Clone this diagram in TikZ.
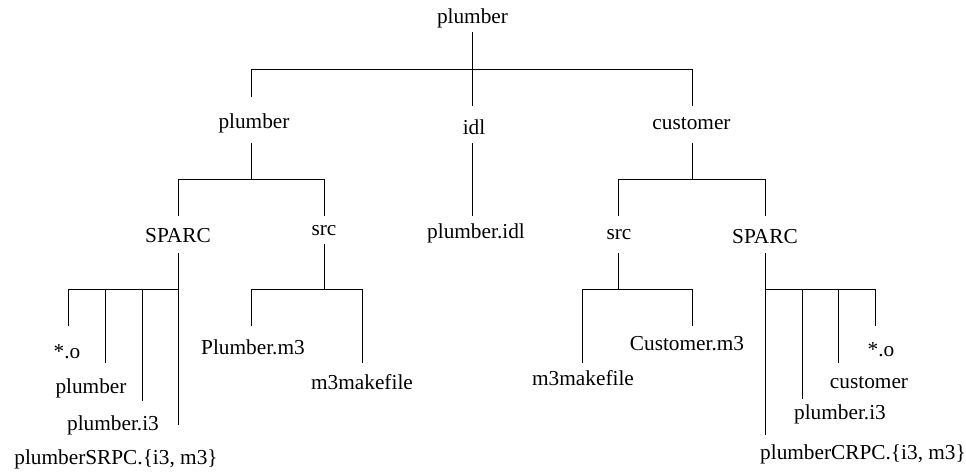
\documentclass[tikz,border=0pt]{standalone}
\usepackage{fontspec}
\setmainfont{Liberation Serif}
\begin{document}
\begin{tikzpicture}[x=1pt,y=-1pt,
  lbl/.style={inner sep=0pt, font=\fontsize{21.3}{24}\selectfont},
  conn/.style={line width=1pt, black}]
\useasboundingbox (0,0) rectangle (966,472);
% ---- labels ----
\node[lbl] (root)   at (472.5,18)  {plumber};
\node[lbl] (plA)    at (254,123)   {plumber};
\node[lbl] (idl)    at (474,127.5) {idl};
\node[lbl] (cust)   at (691.5,124) {customer};
\node[lbl] (pidl)   at (476,233)   {plumber.idl};
\node[lbl] (sparcL) at (178,236)   {SPARC};
\node[lbl] (srcL)   at (324,231)   {src};
\node[lbl] (srcR)   at (619,235)   {src};
\node[lbl] (sparcR) at (765,237)   {SPARC};
\node[lbl] (oL)     at (67,352)    {*.o};
\node[lbl] (plL)    at (91,388)    {plumber};
\node[lbl] (i3L)    at (113,425)   {plumber.i3};
\node[lbl] (srpc)   at (116,459)   {plumberSRPC.\{i3, m3\}};
\node[lbl] (pm3)    at (253,347)   {Plumber.m3};
\node[lbl] (mkL)    at (362,382)   {m3makefile};
\node[lbl] (mkR)    at (583,378)   {m3makefile};
\node[lbl] (cm3)    at (687,344)   {Customer.m3};
\node[lbl] (oR)     at (881,350)   {*.o};
\node[lbl] (custR)  at (869,383)   {customer};
\node[lbl] (i3R)    at (840,414)   {plumber.i3};
\node[lbl] (crpc)   at (863,454)   {plumberCRPC.\{i3, m3\}};
% ---- connector end points and junctions ----
\coordinate (rootB) at (472,32);
\coordinate (idlT)  at (472,106);
\coordinate (b0L)   at (251,69);
\coordinate (b0R)   at (692,69);
\coordinate (plAT)  at (251,97);
\coordinate (custT) at (692,106);
% level 1 -> 2
\coordinate (plAB)  at (251,143);
\coordinate (j1L)   at (251,179);
\coordinate (b1La)  at (178,179);
\coordinate (b1Lb)  at (324,179);
\coordinate (sparcLT) at (178,216);
\coordinate (srcLT) at (324,216);
\coordinate (idlB)  at (472,143);
\coordinate (pidlT) at (472,216);
\coordinate (custB) at (692,143);
\coordinate (j1R)   at (692,179);
\coordinate (b1Ra)  at (618,179);
\coordinate (b1Rb)  at (765,179);
\coordinate (srcRT) at (618,216);
\coordinate (sparcRT) at (765,216);
% left SPARC
\coordinate (sparcLB) at (178,253);
\coordinate (srpcT) at (178,425);
\coordinate (b2a)   at (68,289);
\coordinate (b2b)   at (105,289);
\coordinate (b2c)   at (142,289);
\coordinate (b2d)   at (178,289);
\coordinate (oLT)   at (68,326);
\coordinate (plLT)  at (105,363);
\coordinate (i3LT)  at (142,401);
% left src
\coordinate (srcLB) at (324,244);
\coordinate (b3m)   at (324,289);
\coordinate (b3a)   at (251,289);
\coordinate (b3b)   at (362,289);
\coordinate (pm3T)  at (251,326);
\coordinate (mkLT)  at (362,363);
% right src
\coordinate (srcRB) at (618,253);
\coordinate (b4m)   at (618,289);
\coordinate (b4a)   at (582,289);
\coordinate (b4b)   at (692,289);
\coordinate (mkRT)  at (582,363);
\coordinate (cm3T)  at (692,326);
% right SPARC
\coordinate (sparcRB) at (765,253);
\coordinate (crpcT) at (765,435);
\coordinate (b5a)   at (765,289);
\coordinate (b5b)   at (802,289);
\coordinate (b5c)   at (838,289);
\coordinate (b5d)   at (875,289);
\coordinate (i3RT)  at (802,399);
\coordinate (custRT) at (838,363);
\coordinate (oRT)   at (875,326);
% ---- connectors ----
\draw[conn] (rootB) -- (idlT);
\draw[conn] (plAT) -- (b0L) -- (b0R) -- (custT);
\draw[conn] (plAB) -- (j1L);
\draw[conn] (sparcLT) -- (b1La) -- (b1Lb) -- (srcLT);
\draw[conn] (idlB) -- (pidlT);
\draw[conn] (custB) -- (j1R);
\draw[conn] (srcRT) -- (b1Ra) -- (b1Rb) -- (sparcRT);
\draw[conn] (sparcLB) -- (srpcT);
\draw[conn] (oLT) -- (b2a) -- (b2d);
\draw[conn] (b2b) -- (plLT);
\draw[conn] (b2c) -- (i3LT);
\draw[conn] (srcLB) -- (b3m);
\draw[conn] (pm3T) -- (b3a) -- (b3b) -- (mkLT);
\draw[conn] (srcRB) -- (b4m);
\draw[conn] (mkRT) -- (b4a) -- (b4b) -- (cm3T);
\draw[conn] (sparcRB) -- (crpcT);
\draw[conn] (b5a) -- (b5d) -- (oRT);
\draw[conn] (b5b) -- (i3RT);
\draw[conn] (b5c) -- (custRT);
\end{tikzpicture}
\end{document}
